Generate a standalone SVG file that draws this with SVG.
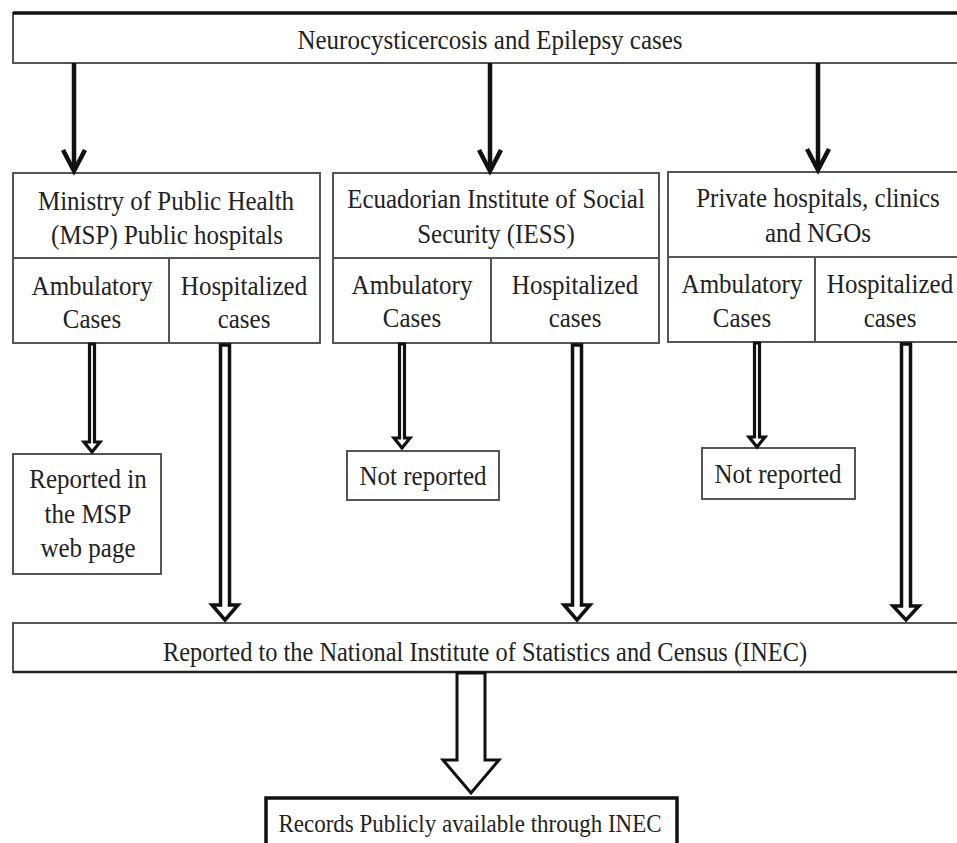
<svg xmlns="http://www.w3.org/2000/svg" width="957" height="843" viewBox="0 0 957 843">
<style>
  .box { fill: #fff; stroke: #555; stroke-width: 2; }
  .box-strong { fill: #fff; stroke: #111; stroke-width: 3.5; }
  .div { stroke: #555; stroke-width: 2; fill: none; }
  .thick { stroke: #111; stroke-width: 3.5; fill: none; }
  .mid { stroke: #222; stroke-width: 2.6; fill: none; }
  text { font-family: "Liberation Serif", "Times New Roman", serif; font-size: 25px; fill: #222; text-anchor: middle; }
  .arrow { stroke: #111; stroke-width: 4.5; fill: none; stroke-linejoin: miter; }
  .hollow { fill: #fff; stroke: #111; stroke-width: 3.5; stroke-linejoin: miter; }
  .narrow { fill: #fff; stroke: #111; stroke-width: 3.2; stroke-linejoin: miter; }
  .big { fill: #fff; stroke: #111; stroke-width: 3; stroke-linejoin: miter; }
</style>
<rect width="957" height="843" fill="#fff"/>

<g id="top">
  <rect class="box" x="13" y="13" width="960" height="50"/>
  <line class="thick" x1="13" y1="13" x2="957" y2="13"/>
  <text transform="translate(490,49) scale(1,1.12)">Neurocysticercosis and Epilepsy cases</text>
</g>

<g id="msp">
  <rect class="box" x="13" y="173" width="307" height="170"/>
  <line class="div" x1="13" y1="258" x2="320" y2="258"/>
  <line class="div" x1="169" y1="258" x2="169" y2="343"/>
  <text transform="translate(166,210) scale(1,1.12)">Ministry of Public Health</text>
  <text transform="translate(167,244) scale(1,1.12)">(MSP) Public hospitals</text>
  <text transform="translate(92,295) scale(1,1.12)">Ambulatory</text>
  <text transform="translate(92,328) scale(1,1.12)">Cases</text>
  <text transform="translate(244,295) scale(1,1.12)">Hospitalized</text>
  <text transform="translate(244,328) scale(1,1.12)">cases</text>
</g>

<g id="iess">
  <rect class="box" x="333" y="173" width="326" height="170"/>
  <line class="div" x1="333" y1="258" x2="659" y2="258"/>
  <line class="div" x1="491" y1="258" x2="491" y2="343"/>
  <text transform="translate(496,208) scale(1,1.12)">Ecuadorian Institute of Social</text>
  <text transform="translate(496,243) scale(1,1.12)">Security (IESS)</text>
  <text transform="translate(412,294) scale(1,1.12)">Ambulatory</text>
  <text transform="translate(412,327) scale(1,1.12)">Cases</text>
  <text transform="translate(575,294) scale(1,1.12)">Hospitalized</text>
  <text transform="translate(575,327) scale(1,1.12)">cases</text>
</g>

<g id="private">
  <rect class="box" x="668" y="172" width="300" height="170"/>
  <line class="div" x1="668" y1="257" x2="957" y2="257"/>
  <line class="div" x1="815" y1="257" x2="815" y2="342"/>
  <text transform="translate(818,207) scale(1,1.12)">Private hospitals, clinics</text>
  <text transform="translate(818,242) scale(1,1.12)">and NGOs</text>
  <text transform="translate(742,293) scale(1,1.12)">Ambulatory</text>
  <text transform="translate(742,327) scale(1,1.12)">Cases</text>
  <text transform="translate(890,293) scale(1,1.12)">Hospitalized</text>
  <text transform="translate(890,327) scale(1,1.12)">cases</text>
</g>

<g id="msp-web">
  <rect class="box" x="13" y="454" width="148" height="120"/>
  <text transform="translate(88,488) scale(1,1.12)">Reported in</text>
  <text transform="translate(88,523) scale(1,1.12)">the MSP</text>
  <text transform="translate(88,557) scale(1,1.12)">web page</text>
</g>

<g id="iess-not">
  <rect class="box" x="347" y="451" width="152" height="49"/>
  <text transform="translate(423,485) scale(1,1.12)">Not reported</text>
</g>

<g id="private-not">
  <rect class="box" x="702" y="448" width="153" height="51"/>
  <text transform="translate(778,483) scale(1,1.12)">Not reported</text>
</g>

<g id="inec">
  <rect class="box" x="13" y="623" width="960" height="49"/>
  <line class="mid" x1="13" y1="672" x2="957" y2="672"/>
  <text transform="translate(485,661) scale(1,1.12)" style="font-size:24.4px">Reported to the National Institute of Statistics and Census (INEC)</text>
</g>

<g id="public">
  <rect class="box-strong" x="266" y="798" width="411" height="60"/>
  <text transform="translate(470,832) scale(1,1.12)" style="font-size:23px">Records Publicly available through INEC</text>
</g>

<g id="connectors">
  <line class="arrow" x1="74" y1="63" x2="74" y2="170"/>
  <path class="arrow" d="M63,150 L74,171 L85,150"/>
  <line class="arrow" x1="490" y1="63" x2="490" y2="170"/>
  <path class="arrow" d="M479,150 L490,171 L501,150"/>
  <line class="arrow" x1="818" y1="63" x2="818" y2="169"/>
  <path class="arrow" d="M807,149 L818,170 L829,149"/>

  <path class="narrow" d="M89.5,344 L94.5,344 L94.5,442 L100,442 L92,452 L84,442 L89.5,442 Z"/>
  <path class="narrow" d="M399.5,344 L404.5,344 L404.5,438 L410,438 L402,448 L394,438 L399.5,438 Z"/>
  <path class="narrow" d="M754.5,343 L759.5,343 L759.5,437 L765,437 L757,447 L749,437 L754.5,437 Z"/>

  <path class="hollow" d="M220.5,345 L229.5,345 L229.5,605 L238,605 L225,620 L212,605 L220.5,605 Z"/>
  <path class="hollow" d="M572.5,345 L581.5,345 L581.5,605 L590,605 L577,620 L564,605 L572.5,605 Z"/>
  <path class="hollow" d="M901.5,344 L910.5,344 L910.5,606 L919,606 L906,620 L893,606 L901.5,606 Z"/>

  <path class="big" d="M457,673 L485,673 L485,760 L499,760 L471,793 L443,760 L457,760 Z"/>
</g>
</svg>
